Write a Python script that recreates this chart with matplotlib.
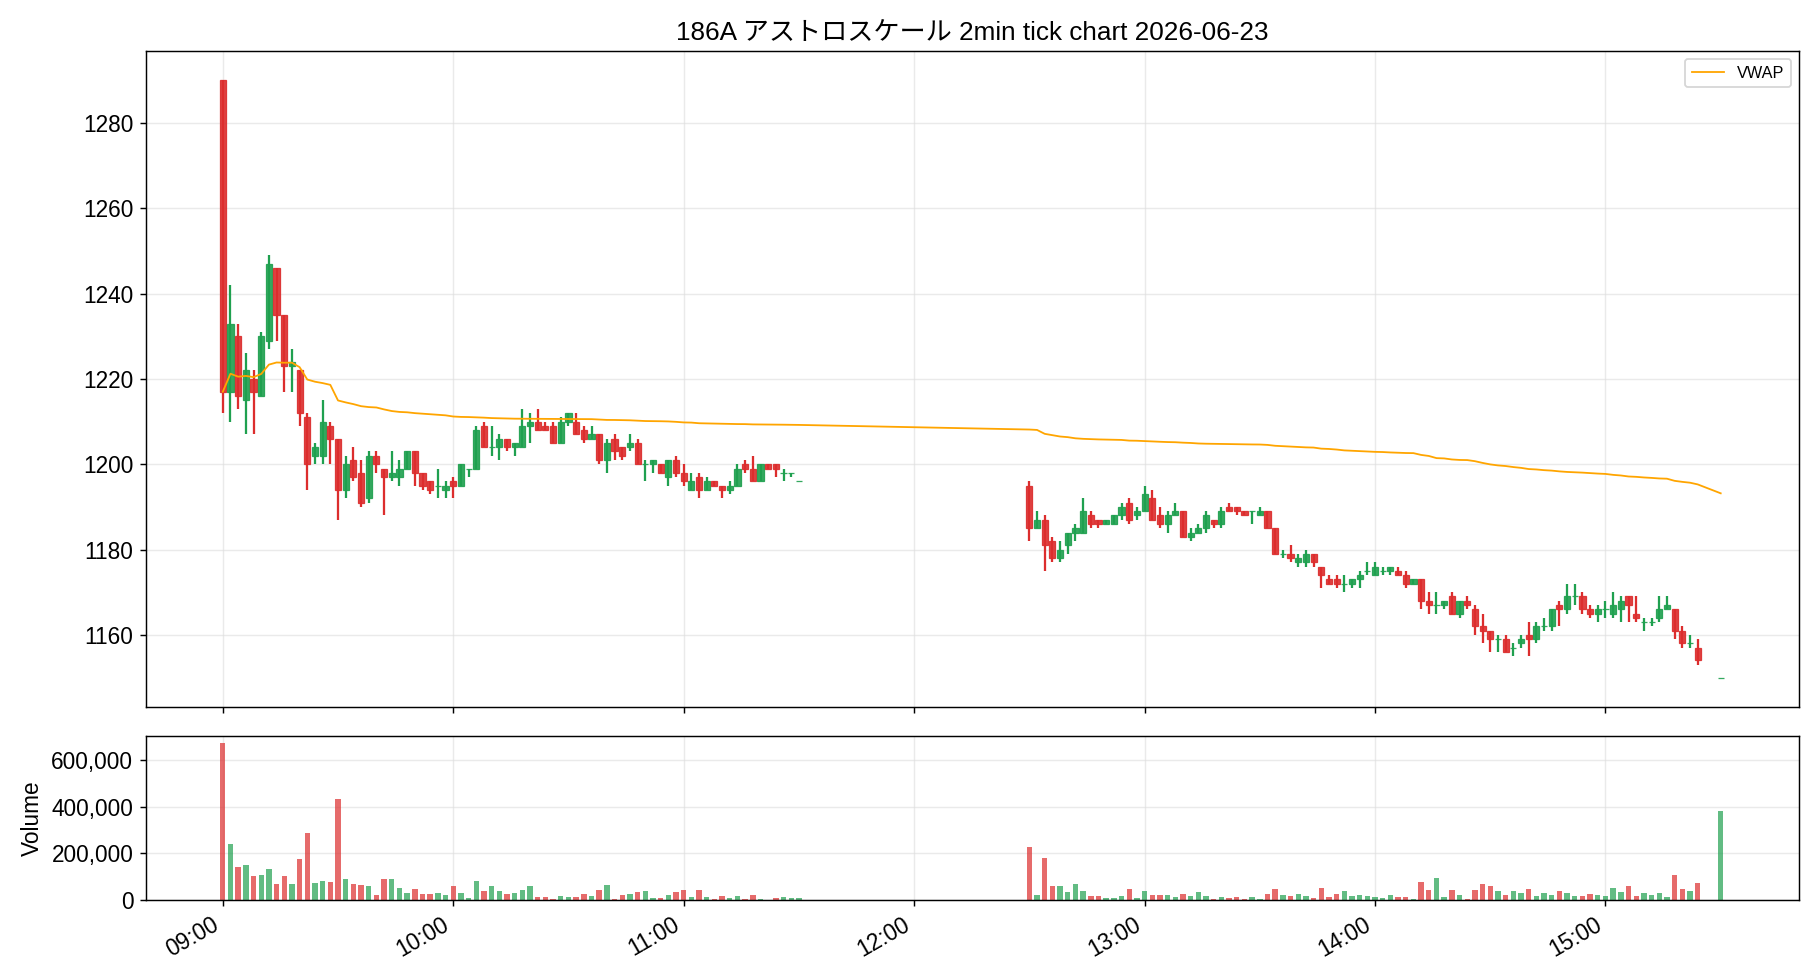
import numpy as np
import pandas as pd
import matplotlib
matplotlib.use("Agg")
import matplotlib.pyplot as plt
from matplotlib.ticker import FuncFormatter

plt.rcParams['font.family'] = ['Liberation Sans', 'Noto Sans CJK JP', 'DejaVu Sans']

# 2-minute bars, morning 09:00-11:30, afternoon 12:30-15:24 plus closing auction 15:30
times = (list(pd.date_range("09:00", "11:30", freq="2min").strftime("%H:%M"))
         + list(pd.date_range("12:30", "15:24", freq="2min").strftime("%H:%M"))
         + ["15:30"])

opens = [1290, 1217, 1230, 1215, 1220, 1216, 1229, 1246, 1235, 1223,
         1222, 1211, 1202, 1202, 1209, 1206, 1194, 1201, 1198, 1192,
         1202, 1199, 1197, 1197, 1199, 1203, 1198, 1196, 1195, 1194,
         1196, 1195, 1199, 1199, 1209, 1204, 1204, 1206, 1204, 1204,
         1209, 1210, 1209, 1209, 1205, 1210, 1210, 1208, 1206, 1207,
         1201, 1206, 1204, 1204, 1205, 1200, 1200, 1200, 1197, 1201,
         1198, 1194, 1197, 1194, 1196, 1195, 1194, 1195, 1200, 1199,
         1196, 1200, 1200, 1198, 1198, 1196,
         1195, 1185, 1187, 1182, 1178, 1181, 1184, 1184, 1188, 1187,
         1186, 1186, 1188, 1191, 1188, 1189, 1192, 1188, 1186, 1188,
         1189, 1183, 1184, 1185, 1187, 1186, 1190, 1190, 1189, 1189,
         1188, 1189, 1185, 1179, 1179, 1177, 1177, 1179, 1176, 1173,
         1173, 1172, 1172, 1173, 1175, 1174, 1175, 1175, 1175, 1174,
         1172, 1173, 1168, 1167, 1167, 1169, 1165, 1168, 1166, 1162,
         1161, 1159, 1159, 1157, 1158, 1160, 1159, 1162, 1162, 1167,
         1166, 1169, 1169, 1166, 1165, 1166, 1165, 1166, 1169, 1165,
         1163, 1163, 1164, 1166, 1166, 1161, 1158, 1157, 1150]
highs = [1290, 1242, 1233, 1226, 1222, 1231, 1249, 1246, 1235, 1227,
         1222, 1212, 1205, 1215, 1210, 1206, 1202, 1204, 1201, 1203,
         1203, 1199, 1203, 1201, 1203, 1203, 1198, 1196, 1199, 1196,
         1197, 1200, 1199, 1209, 1210, 1209, 1207, 1206, 1205, 1213,
         1212, 1213, 1210, 1210, 1211, 1212, 1212, 1209, 1209, 1207,
         1206, 1207, 1204, 1207, 1206, 1201, 1201, 1200, 1201, 1202,
         1200, 1198, 1198, 1197, 1196, 1195, 1196, 1200, 1201, 1202,
         1200, 1200, 1200, 1199, 1198, 1196,
         1196, 1189, 1188, 1183, 1182, 1184, 1186, 1192, 1189, 1187,
         1187, 1188, 1191, 1192, 1190, 1195, 1194, 1190, 1189, 1191,
         1189, 1185, 1186, 1189, 1187, 1190, 1191, 1190, 1189, 1189,
         1190, 1189, 1185, 1180, 1181, 1179, 1180, 1179, 1176, 1174,
         1174, 1174, 1173, 1175, 1177, 1177, 1176, 1176, 1176, 1175,
         1173, 1173, 1170, 1170, 1168, 1170, 1168, 1169, 1167, 1165,
         1161, 1160, 1160, 1158, 1160, 1163, 1163, 1164, 1166, 1168,
         1172, 1172, 1170, 1167, 1167, 1168, 1170, 1169, 1169, 1169,
         1164, 1164, 1169, 1169, 1166, 1162, 1160, 1159, 1150]
lows = [1212, 1210, 1213, 1207, 1207, 1216, 1227, 1229, 1217, 1217,
        1209, 1194, 1200, 1200, 1200, 1187, 1192, 1196, 1190, 1191,
        1198, 1188, 1196, 1195, 1199, 1195, 1194, 1193, 1192, 1192,
        1192, 1195, 1197, 1199, 1204, 1202, 1201, 1203, 1202, 1204,
        1205, 1208, 1208, 1205, 1205, 1209, 1207, 1205, 1206, 1200,
        1198, 1201, 1201, 1203, 1200, 1196, 1198, 1198, 1195, 1197,
        1195, 1194, 1192, 1194, 1195, 1192, 1193, 1195, 1198, 1196,
        1196, 1199, 1197, 1196, 1197, 1196,
        1182, 1185, 1175, 1177, 1177, 1179, 1182, 1184, 1185, 1185,
        1186, 1186, 1187, 1186, 1187, 1189, 1187, 1185, 1184, 1188,
        1183, 1182, 1184, 1184, 1185, 1185, 1189, 1188, 1188, 1186,
        1188, 1185, 1179, 1178, 1177, 1176, 1176, 1176, 1171, 1172,
        1171, 1170, 1171, 1171, 1174, 1174, 1174, 1174, 1174, 1171,
        1172, 1166, 1165, 1165, 1166, 1165, 1164, 1166, 1160, 1158,
        1156, 1156, 1156, 1155, 1157, 1155, 1158, 1161, 1161, 1162,
        1165, 1167, 1165, 1164, 1163, 1164, 1164, 1163, 1163, 1163,
        1161, 1162, 1163, 1166, 1159, 1157, 1157, 1153, 1150]
closes = [1217, 1233, 1216, 1222, 1217, 1230, 1247, 1235, 1223, 1224,
          1212, 1200, 1204, 1210, 1206, 1194, 1200, 1197, 1191, 1202,
          1200, 1197, 1198, 1199, 1203, 1198, 1195, 1194, 1195, 1195,
          1195, 1200, 1199, 1208, 1204, 1204, 1206, 1204, 1205, 1209,
          1210, 1208, 1208, 1205, 1210, 1212, 1207, 1206, 1207, 1201,
          1205, 1203, 1202, 1205, 1200, 1200, 1201, 1198, 1201, 1198,
          1196, 1196, 1194, 1196, 1195, 1194, 1195, 1199, 1199, 1196,
          1200, 1199, 1199, 1198, 1198, 1196,
          1185, 1187, 1181, 1178, 1180, 1184, 1185, 1189, 1186, 1186,
          1187, 1188, 1190, 1187, 1189, 1193, 1187, 1186, 1188, 1189,
          1183, 1184, 1185, 1188, 1186, 1189, 1189, 1189, 1188, 1189,
          1189, 1185, 1179, 1179, 1178, 1178, 1179, 1177, 1174, 1172,
          1172, 1172, 1173, 1174, 1175, 1176, 1175, 1176, 1174, 1172,
          1173, 1168, 1167, 1167, 1168, 1165, 1168, 1167, 1162, 1161,
          1159, 1159, 1156, 1157, 1159, 1159, 1162, 1162, 1166, 1166,
          1169, 1169, 1166, 1165, 1166, 1166, 1167, 1168, 1167, 1164,
          1163, 1163, 1166, 1167, 1161, 1158, 1158, 1154, 1150]
volumes = [673000, 242000, 140000, 148000, 101000, 109000, 131000, 70000, 101000, 70000,
           174000, 286000, 75000, 83000, 79000, 433000, 92000, 70000, 66000, 58000,
           23000, 92000, 88000, 53000, 32000, 49000, 27000, 27000, 32000, 23000,
           62000, 32000, 10000, 83000, 40000, 58000, 40000, 27000, 32000, 45000,
           58000, 14000, 14000, 6000, 19000, 14000, 14000, 27000, 19000, 45000,
           66000, 6000, 23000, 27000, 36000, 40000, 10000, 10000, 23000, 36000,
           45000, 14000, 45000, 14000, 6000, 19000, 10000, 19000, 6000, 23000,
           6000, 2000, 10000, 14000, 10000, 10000,
           226000, 23000, 178000, 58000, 62000, 36000, 70000, 40000, 19000, 19000,
           10000, 10000, 19000, 49000, 10000, 40000, 23000, 23000, 23000, 14000,
           27000, 19000, 36000, 19000, 6000, 14000, 10000, 14000, 6000, 14000,
           6000, 27000, 49000, 23000, 19000, 27000, 19000, 10000, 53000, 14000,
           27000, 40000, 19000, 23000, 19000, 14000, 10000, 23000, 14000, 14000,
           6000, 79000, 45000, 96000, 14000, 45000, 23000, 6000, 45000, 70000,
           58000, 40000, 23000, 40000, 32000, 49000, 19000, 32000, 23000, 40000,
           32000, 19000, 19000, 27000, 23000, 19000, 53000, 36000, 58000, 19000,
           32000, 23000, 32000, 14000, 109000, 49000, 40000, 75000, 381000]

df = pd.DataFrame({"time": times, "open": opens, "high": highs,
                   "low": lows, "close": closes, "volume": volumes})
hm = df["time"].str.split(":", expand=True).astype(int)
df["x"] = (hm[0] - 9) * 60 + hm[1]          # minutes since 09:00
df["vwap"] = (df["close"] * df["volume"]).cumsum() / df["volume"].cumsum()

up_col = "#1fa04f"
dn_col = "#dc2d2d"
cols = np.where(df["close"] >= df["open"], up_col, dn_col)

fig = plt.figure(figsize=(14, 980 / 130), dpi=130)
ax = fig.add_axes([0.0802, 0.2786, 0.9083, 0.6694])
axv = fig.add_axes([0.0802, 0.0816, 0.9083, 0.1677], sharex=ax)

# candles
ax.vlines(df["x"], df["low"], df["high"], color=cols, linewidth=1.25, zorder=2)
ax.bar(df["x"], df["close"] - df["open"], bottom=df["open"], width=1.6,
       color=cols, edgecolor=cols, linewidth=0.7, alpha=0.9, zorder=3)
ax.plot(df["x"], df["vwap"], color="orange", linewidth=1.0, label="VWAP", zorder=4)

ax.set_xlim(-20, 410.4)
ax.set_ylim(1143.1, 1296.9)
ax.set_yticks(np.arange(1160, 1281, 20))
ax.grid(True, color="#dddddd", alpha=0.6)
ax.set_axisbelow(True)
ax.tick_params(labelsize=12.5)
ax.legend(loc="upper right", fontsize=9)
ax.set_title("186A アストロスケール 2min tick chart 2026-06-23", fontsize=14.5)
plt.setp(ax.get_xticklabels(), visible=False)

# volume
axv.bar(df["x"], df["volume"], width=1.4, color=cols, alpha=0.7)
axv.set_ylim(0, 704000)
axv.set_yticks([0, 200000, 400000, 600000])
axv.yaxis.set_major_formatter(FuncFormatter(lambda v, p: f"{int(v):,}"))
axv.set_ylabel("Volume", fontsize=12.5)
axv.grid(True, color="#dddddd", alpha=0.6)
axv.set_axisbelow(True)
axv.tick_params(labelsize=12.5)

tick_pos = list(range(0, 361, 60))
tick_lab = ["09:00", "10:00", "11:00", "12:00", "13:00", "14:00", "15:00"]
axv.set_xticks(tick_pos)
axv.set_xticklabels(tick_lab, rotation=30, ha="right")

fig.savefig("out.png", dpi=130)
